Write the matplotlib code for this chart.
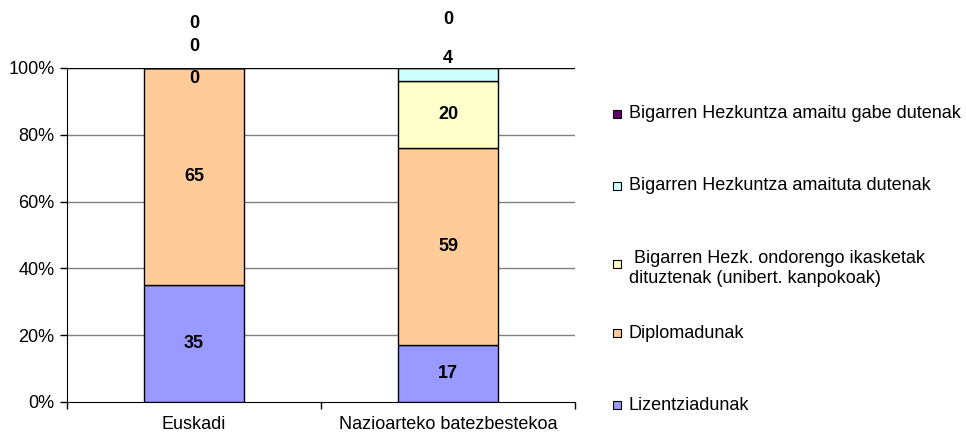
import matplotlib
matplotlib.use('Agg')
import matplotlib.pyplot as plt
from matplotlib.patches import Rectangle

plt.rcParams['font.family'] = ['Liberation Sans', 'DejaVu Sans']
FS = 13

categories = ['Euskadi', 'Nazioarteko batezbestekoa']
series_names = ['Lizentziadunak',
                'Diplomadunak',
                ' Bigarren Hezk. ondorengo ikasketak\ndituztenak (unibert. kanpokoak)',
                'Bigarren Hezkuntza amaituta dutenak',
                'Bigarren Hezkuntza amaitu gabe dutenak']
lizentziadunak = [35, 17]
diplomadunak = [65, 59]
ondorengo = [0, 20]
amaituta = [0, 4]
amaitu_gabe = [0, 0]
series_values = [lizentziadunak, diplomadunak, ondorengo, amaituta, amaitu_gabe]
colors = ['#9999FF', '#FFCC99', '#FFFFCC', '#CCFFFF', '#660066']

# Excel pushes the crowded labels at the top upwards; (category, series) -> y in %
label_nudge = {(0, 2): 97, (0, 3): 106.3, (0, 4): 113.2,
               (1, 3): 102.7, (1, 4): 114.4}

fig = plt.figure(figsize=(9.66, 4.34), dpi=100)
ax = fig.add_axes([67/966, 32/434, 508/966, 334/434])

x = list(range(len(categories)))
bottom = [0] * len(categories)
for s, (vals, col) in enumerate(zip(series_values, colors)):
    ax.bar(x, vals, width=0.395, bottom=bottom, color=col,
           edgecolor='black', linewidth=1, zorder=3)
    for i, v in enumerate(vals):
        y = label_nudge.get((i, s), bottom[i] + v / 2)
        ax.text(x[i], y, str(v), ha='center', va='center', fontsize=FS,
                fontweight='bold', zorder=5, clip_on=False)
    bottom = [b + v for b, v in zip(bottom, vals)]

ax.set_xlim(-0.5, len(categories) - 0.5)
ax.set_ylim(0, 100)
ax.set_yticks(range(0, 101, 20))
ax.set_yticklabels(['%d%%' % t for t in range(0, 101, 20)], fontsize=FS)
ax.tick_params(axis='y', length=5, width=1, pad=4)
for t in range(20, 100, 20):
    ax.axhline(t, color='#808080', lw=1, zorder=1)
ax.axhline(100, color='black', lw=1, zorder=1)

# category boundaries carry the ticks, names sit in the middle
ax.set_xticks([i - 0.5 for i in range(len(categories) + 1)])
ax.set_xticklabels([''] * (len(categories) + 1))
ax.tick_params(axis='x', length=5, width=1, direction='out')
ax.set_xticks(x, minor=True)
ax.set_xticklabels(categories, minor=True, fontsize=FS)
ax.tick_params(axis='x', which='minor', length=0, pad=10)

for side in ['top', 'right']:
    ax.spines[side].set_visible(False)

# legend, top entry first
leg_y = [114, 186, 260, 333, 405]
for name, col, yy in zip(series_names[::-1], colors[::-1], leg_y):
    my = yy + 4 if '\n' in name else yy
    fig.patches.append(Rectangle((613/966, 1 - (my + 4)/434), 8/966, 8/434,
                                 transform=fig.transFigure, facecolor=col,
                                 edgecolor='black', linewidth=0.8))
    if '\n' in name:
        fig.text(629/966, 1 - (yy - 10)/434, name, ha='left', va='top',
                 fontsize=FS, linespacing=1.25)
    else:
        fig.text(629/966, 1 - yy/434, name, ha='left', va='center',
                 fontsize=FS)

fig.savefig('out.png', dpi=100, facecolor='white')
